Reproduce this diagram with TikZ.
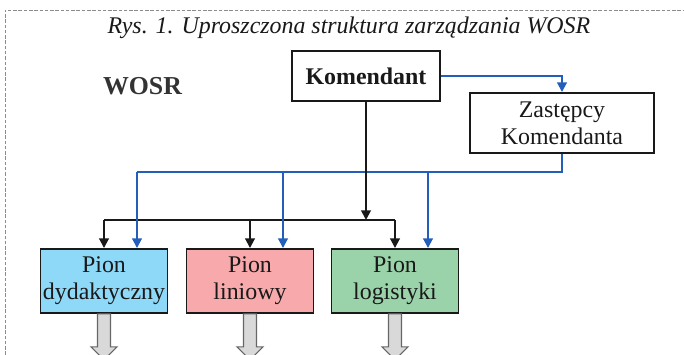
\documentclass[tikz,border=0pt]{standalone}
\usepackage{fontspec}
\setmainfont{Liberation Serif}
\usepackage{tikz}
\usetikzlibrary{arrows.meta,positioning,calc}

\definecolor{wosrblue}{RGB}{35,95,185}
\definecolor{piondyd}{RGB}{142,216,248}
\definecolor{pionlin}{RGB}{247,169,172}
\definecolor{pionlog}{RGB}{154,211,170}

\begin{document}
\begin{tikzpicture}[
    txt/.style={font=\fontsize{13.6}{15.5}\selectfont, text=black!90},
    bossbox/.style={shape=rectangle,draw=black!90,line width=1.1pt,txt,align=center,inner sep=0pt},
    pionbox/.style={bossbox,minimum width=2.54cm,minimum height=1.28cm},
    blueline/.style={draw=wosrblue,line width=1.1pt,-{Triangle[width=5.5pt,length=5.5pt]}},
    blackline/.style={draw=black!90,line width=1.1pt,-{Triangle[width=5.5pt,length=5.5pt]}},
    hollow/.style={draw=black!60,fill=black!15,line width=0.6pt},
    frame/.style={draw=black!45,line width=0.5pt,dash pattern=on 2pt off 1pt}
]
   \useasboundingbox (0,0) rectangle (13.68,7.10);
   \draw[frame] (0.1,0) -- (0.1,6.9) -- (13.68,6.9);

   \node[txt,font=\fontsize{13.6}{15.5}\selectfont\itshape,anchor=base] (title) at (6.98,6.42) {Rys. 1. Uproszczona struktura zarządzania WOSR};
   \node[txt,font=\fontsize{14.7}{16}\selectfont\bfseries,text=black!80,anchor=base] (wosr) at (2.85,5.2) {WOSR};

   \node[bossbox,font=\fontsize{13.6}{15.5}\selectfont\bfseries,minimum width=2.96cm,minimum height=1.0cm] (K) at (7.32,5.58) {Komendant};
   \node[bossbox,minimum width=3.68cm,minimum height=1.2cm] (Z) at (11.24,4.64) {Zastępcy\\Komendanta};

   \node[pionbox,fill=piondyd] (P1) at (2.08,1.48) {Pion\\dydaktyczny};
   \node[pionbox,fill=pionlin] (P2) at (5.00,1.48) {Pion\\liniowy};
   \node[pionbox,fill=pionlog] (P3) at (7.90,1.48) {Pion\\logistyki};

   \coordinate (bbus) at (0,3.66);
   \coordinate (kbus) at (0,2.70);

   \draw[blueline] (K.east) -| (Z.north);
   \draw[blueline,-] (Z.south) |- ([xshift=0.66cm]P1.north |- bbus);
   \draw[blackline] (K.south) -- (K.south |- kbus);
   \draw[blackline,-] (P1.north |- kbus) -- (P3.north |- kbus);
   \foreach \p in {P1,P2,P3} {
      \draw[blackline] (\p.north |- kbus) -- (\p.north);
      \draw[blueline] ([xshift=0.66cm]\p.north |- bbus) -- ([xshift=0.66cm]\p.north);
      % grey outlet arrows
      \draw[hollow] ([xshift=-0.13cm]\p.south) -- ++(0,-0.66) -- ++(-0.13,0) -- ++(0.26,-0.26)
         -- ++(0.26,0.26) -- ++(-0.13,0) -- ++(0,0.66) -- cycle;
   }
\end{tikzpicture}
\end{document}
